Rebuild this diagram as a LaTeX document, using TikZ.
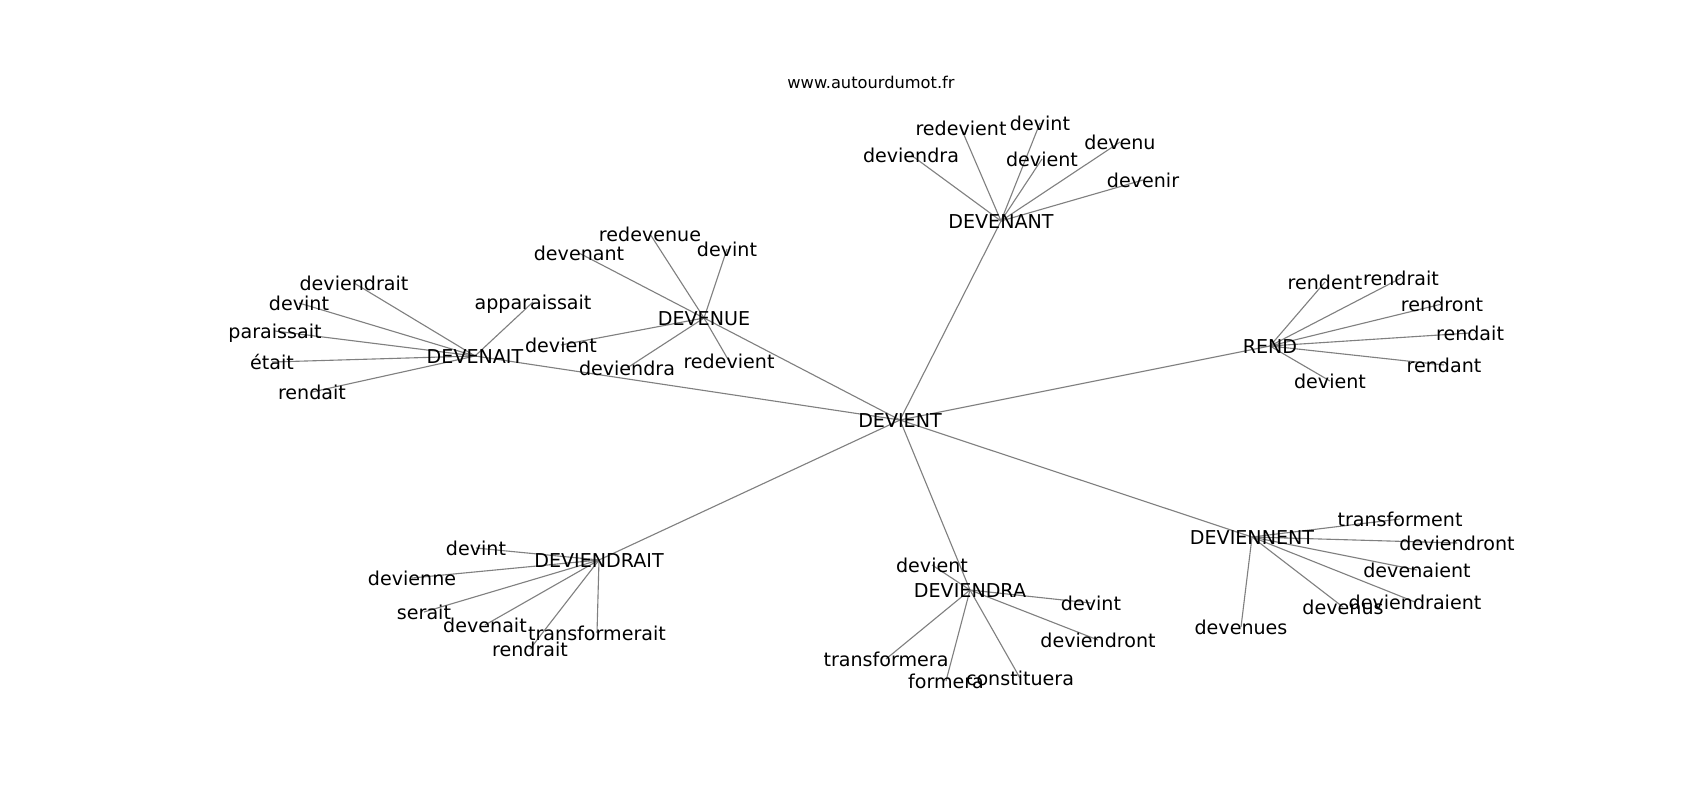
\documentclass[tikz,border=0pt]{standalone}
\usepackage{fontspec}
\setmainfont{DejaVu Sans}
\usetikzlibrary{backgrounds}
\begin{document}
\begin{tikzpicture}[x=0.72pt,y=-0.72pt,
  lbl/.style={inner sep=0pt,outer sep=0pt,text height=10.08pt,text depth=0pt,anchor=center,font=\fontsize{13.75pt}{15pt}\selectfont},
  edge/.style={draw=black!50,line width=0.8pt}]
\useasboundingbox (0,0) rectangle (1700,800);
\node[anchor=base,inner sep=0pt,font=\fontsize{11.7pt}{13pt}\selectfont] (title) at (871,88) {www.autourdumot.fr};
% hubs
\node[lbl] (c) at (900,420) {DEVIENT};
\node[lbl] (a) at (1001,221) {DEVENANT};
\node[lbl] (b) at (704,318) {DEVENUE};
\node[lbl] (d) at (475,356) {DEVENAIT};
\node[lbl] (r) at (1270,346) {REND};
\node[lbl] (e) at (599,560) {DEVIENDRAIT};
\node[lbl] (f) at (970,590) {DEVIENDRA};
\node[lbl] (g) at (1252,537) {DEVIENNENT};
% DEVENANT
\node[lbl] (a1) at (911,155) {deviendra};
\node[lbl] (a2) at (961,128) {redevient};
\node[lbl] (a3) at (1040,123) {devint};
\node[lbl] (a4) at (1042,159) {devient};
\node[lbl] (a5) at (1120,142) {devenu};
\node[lbl] (a6) at (1143,180) {devenir};
% DEVENUE
\node[lbl] (b1) at (650,234) {redevenue};
\node[lbl] (b2) at (727,249) {devint};
\node[lbl] (b3) at (579,253) {devenant};
\node[lbl] (b4) at (561,345) {devient};
\node[lbl] (b5) at (627,368) {deviendra};
\node[lbl] (b6) at (729,361) {redevient};
% DEVENAIT
\node[lbl] (d1) at (354,283) {deviendrait};
\node[lbl] (d2) at (299,303) {devint};
\node[lbl] (d3) at (275,331) {paraissait};
\node[lbl] (d4) at (272,362) {était};
\node[lbl] (d5) at (312,392) {rendait};
\node[lbl] (d6) at (533,302) {apparaissait};
% REND
\node[lbl] (r1) at (1325,282) {rendent};
\node[lbl] (r2) at (1401,278) {rendrait};
\node[lbl] (r3) at (1442,304) {rendront};
\node[lbl] (r4) at (1470,333) {rendait};
\node[lbl] (r5) at (1444,365) {rendant};
\node[lbl] (r6) at (1330,381) {devient};
% DEVIENDRAIT
\node[lbl] (e1) at (476,548) {devint};
\node[lbl] (e2) at (412,578) {devienne};
\node[lbl] (e3) at (424,612) {serait};
\node[lbl] (e4) at (485,625) {devenait};
\node[lbl] (e5) at (597,633) {transformerait};
\node[lbl] (e6) at (530,649) {rendrait};
% DEVIENDRA
\node[lbl] (f1) at (932,565) {devient};
\node[lbl] (f2) at (1091,603) {devint};
\node[lbl] (f3) at (1098,640) {deviendront};
\node[lbl] (f4) at (886,659) {transformera};
\node[lbl] (f5) at (946,681) {formera};
\node[lbl] (f6) at (1020,678) {constituera};
% DEVIENNENT
\node[lbl] (g1) at (1400,519) {transforment};
\node[lbl] (g2) at (1457,543) {deviendront};
\node[lbl] (g3) at (1417,570) {devenaient};
\node[lbl] (g4) at (1415,602) {deviendraient};
\node[lbl] (g5) at (1343,607) {devenus};
\node[lbl] (g6) at (1241,627) {devenues};
% edges, under the labels
\begin{scope}[on background layer]
\fill[white] (0,0) rectangle (1700,800);
\foreach \h in {a,b,d,r,e,f,g}{\draw[edge] (c.center) -- (\h.center);}
\foreach \h in {a,b,d,r,e,f,g}{\foreach \i in {1,...,6}{\draw[edge] (\h.center) -- (\h\i.center);}}
\end{scope}
\end{tikzpicture}
\end{document}
